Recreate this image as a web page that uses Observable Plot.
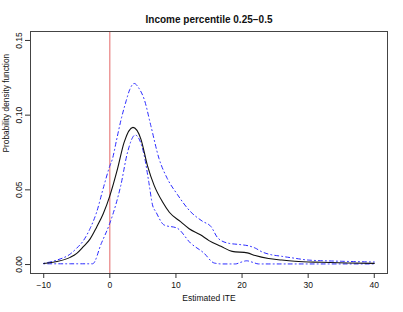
<!DOCTYPE html>
<html>
<head>
<meta charset="utf-8">
<script src="https://cdn.jsdelivr.net/npm/d3@7"></script>
<script src="https://cdn.jsdelivr.net/npm/@observablehq/plot@0.6"></script>
<style>
  html, body { margin: 0; padding: 0; background: #fff; }
  #chart svg { display: block; }
</style>
</head>
<body>
<div id="chart"></div>
<script>
// ---- data ----
const titleText = "Income percentile 0.25\u22120.5";
const xLabel = "Estimated ITE";
const yLabel = "Probability density function";
const xTicks = [-10, 0, 10, 20, 30, 40];
const yTicks = [0, 0.05, 0.10, 0.15];

const meanX = [-10, -8, -6, -5, -4, -3, -2, -1, 0, 1.16, 2.16, 3.5, 4.7, 5.7, 6.7, 7.96, 9, 10.7, 12, 13.7, 15, 16.8, 18.5, 20.8, 22, 24, 26, 28, 32, 36, 40];
const meanY = [0.0007, 0.002, 0.0048, 0.0075, 0.012, 0.017, 0.025, 0.034, 0.046, 0.064, 0.0818, 0.0918, 0.084, 0.066, 0.053, 0.042, 0.035, 0.0287, 0.024, 0.0199, 0.016, 0.0122, 0.0088, 0.0078, 0.006, 0.004, 0.003, 0.0022, 0.0015, 0.001, 0.0008];

const upperX = [-10, -8, -6, -5, -4, -3, -2, -1, 0, 0.4, 1, 1.7, 2.5, 3, 3.7, 4.4, 5.2, 6.2, 7.45, 8.7, 10.2, 12.2, 14, 15.3, 16.3, 17.8, 19.8, 21, 22, 23, 24, 26, 28, 30, 35, 40];
const upperY = [0.0008, 0.003, 0.007, 0.011, 0.016, 0.024, 0.035, 0.051, 0.066, 0.0708, 0.083, 0.097, 0.110, 0.117, 0.1212, 0.118, 0.1106, 0.093, 0.0708, 0.0575, 0.047, 0.0354, 0.029, 0.0254, 0.018, 0.0144, 0.0133, 0.0125, 0.011, 0.0085, 0.007, 0.0055, 0.0042, 0.003, 0.0022, 0.0017];

const lowerX = [-10, -6, -2.6, -1.3, 0, 0.9, 1.66, 2.67, 3.83, 5.2, 5.9, 6.45, 7, 8.2, 10.2, 12.2, 14.2, 15.8, 17, 19, 19.8, 20.7, 21.6, 22.5, 30, 40];
const lowerY = [0.0005, 0.0005, 0.0005, 0.014, 0.0277, 0.040, 0.053, 0.075, 0.0867, 0.073, 0.055, 0.040, 0.035, 0.0265, 0.0243, 0.0144, 0.0078, 0.001, 0.0004, 0.0004, 0.0015, 0.0025, 0.0015, 0.0004, 0.0004, 0.0004];

// ---- build tables ----
const toRows = (xs, ys) => xs.map((x, i) => ({x, y: ys[i]}));
const meanRows = toRows(meanX, meanY);
const upperRows = toRows(upperX, upperY);
const lowerRows = toRows(lowerX, lowerY);

const font = "'Liberation Sans', Arial, Helvetica, sans-serif";

const chart = Plot.plot({
  width: 403,
  height: 312,
  marginLeft: 30,
  marginRight: 16,
  marginTop: 31,
  marginBottom: 39,
  style: {fontFamily: font, fontSize: "8.5px", color: "#111", background: "#fff"},
  x: {domain: [-12, 42]},
  y: {domain: [-0.006, 0.156]},
  marks: [
    Plot.ruleX([0], {stroke: "#e05555", strokeWidth: 0.9}),
    Plot.line(upperRows, {x: "x", y: "y", stroke: "#2a2aff", strokeWidth: 1, strokeDasharray: "1,3,4,3", curve: "monotone-x"}),
    Plot.line(lowerRows, {x: "x", y: "y", stroke: "#2a2aff", strokeWidth: 1, strokeDasharray: "1,3,4,3", curve: "monotone-x"}),
    Plot.line(meanRows, {x: "x", y: "y", stroke: "#111", strokeWidth: 1.1, curve: "monotone-x"}),
    Plot.frame({stroke: "#444"}),
    Plot.axisX({ticks: xTicks, tickSize: 5, tickPadding: 3, label: null, stroke: "#333"}),
    Plot.axisY({ticks: yTicks, tickFormat: d3.format(".2f"), tickRotate: -90, tickSize: 5, label: null, stroke: "#333"}),
    Plot.text([titleText], {frameAnchor: "top", dy: -16, fontWeight: "bold", fontSize: 10, fill: "#111"}),
    Plot.text([xLabel], {frameAnchor: "bottom", dy: 27, fontSize: 8.5, fill: "#111"}),
    Plot.text([yLabel], {frameAnchor: "left", dx: -24, rotate: -90, fontSize: 8.3, fill: "#111"})
  ]
});
document.getElementById("chart").appendChild(chart);
</script>
</body>
</html>
